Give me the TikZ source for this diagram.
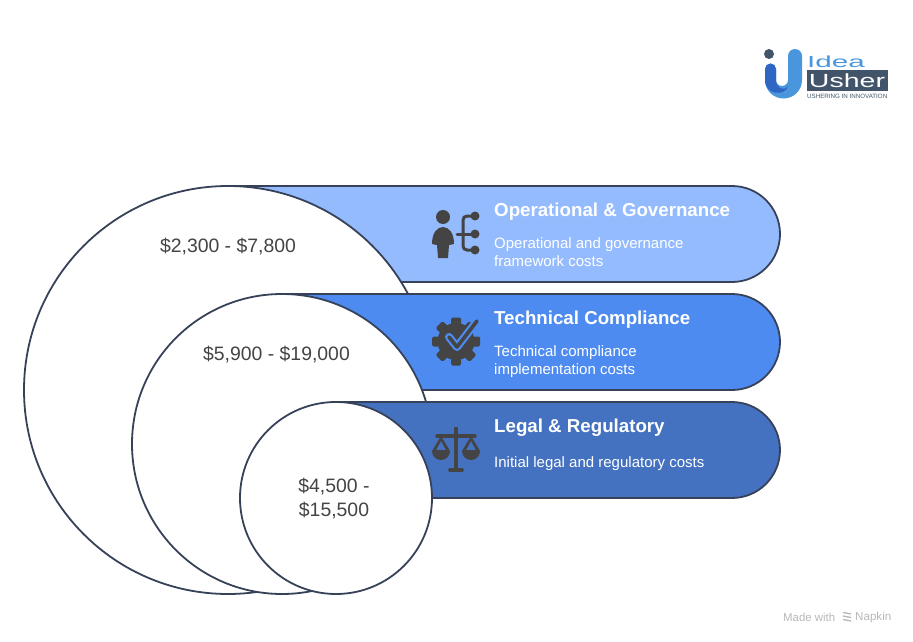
\documentclass[tikz,border=0pt]{standalone}
\usepackage{fontspec}
\setmainfont{Liberation Sans}
\usetikzlibrary{calc}

\definecolor{barlight}{HTML}{94BBFE}
\definecolor{barmid}{HTML}{4D8BF0}
\definecolor{bardark}{HTML}{4472C0}
\definecolor{rim}{HTML}{374259}
\definecolor{ink}{HTML}{444444}
\definecolor{logoblue}{HTML}{4A96DC}
\definecolor{logodeep}{HTML}{2F66C4}
\definecolor{logoslate}{HTML}{41546A}

\begin{document}
\begin{tikzpicture}[x=1pt,y=-1pt]
      \newcommand{\band}[3]{\filldraw[bandline,fill=#1] (#3,#2) -- (732,#2) arc[start angle=-90,end angle=90,radius=48] -- (#3,#2+96) -- cycle;}
      \tikzstyle{bandline}=[draw=rim,line width=1.8pt]
      \tikzstyle{ring}=[circle,draw=rim,fill=white,line width=1.8pt,inner sep=0pt]
      \tikzstyle{cost}=[text=ink,font=\fontsize{19.4}{24}\selectfont,align=center]
      \tikzstyle{title}=[anchor=west,inner sep=0pt,text=white,font=\fontsize{18.7}{24}\selectfont\bfseries]
      \tikzstyle{desc}=[anchor=north west,inner sep=0pt,text=white,align=left,font=\fontsize{15}{18}\selectfont]
      \tikzstyle{icon}=[fill=ink,draw=none]
      \tikzstyle{wire}=[draw=ink,line width=3pt,line cap=round]

      \useasboundingbox (0,0) rectangle (913,642);
      \fill[white] (0,0) rectangle (913,642);

      % stacked bands and circles
      \band{barlight}{186}{228}
      \node[ring,minimum size=408pt] (large) at (228,390) {};
      \band{barmid}{294}{282}
      \fill[white] (400,390.9) rectangle (440,402);
      \node[ring,minimum size=300pt] (medium) at (282,444) {};
      \band{bardark}{402}{336}
      \node[ring,minimum size=192pt] (small) at (336,498) {};

      \node[cost] (cost1) at (228,246.5) {\$2,300 - \$7,800};
      \node[cost] (cost2) at (276.5,354.5) {\$5,900 - \$19,000};
      \node[cost] (cost3) at (334,498.5) {\$4,500 -\\[0pt]\$15,500};

      \node[title] (title1) at (494,211.5) {Operational \& Governance};
      \node[title] (title2) at (494,319.5) {Technical Compliance};
      \node[title] (title3) at (494,427.5) {Legal \& Regulatory};
      \node[desc] (desc1) at (494,237.5) {Operational and governance\\framework costs};
      \node[desc] (desc2) at (494,345.5) {Technical compliance\\implementation costs};
      \node[desc] (desc3) at (494,456.5) {Initial legal and regulatory costs};

      % person with branches
      \fill[icon] (443,217) circle (7);
      \fill[icon] (432,244) .. controls (432,233) and (437,227) .. (443,227) .. controls (449,227) and (454,233) .. (454,244) -- (449,245) -- (448,258) -- (438,258) -- (437,245) -- cycle;
      \draw[wire,rounded corners=4pt] (475,216) -- (463,216) -- (463,250) -- (475,250);
      \draw[wire] (457,234) -- (475,234);
      \fill[icon] (475,216) circle (4.5);
      \fill[icon] (475,234) circle (4.5);
      \fill[icon] (475,250) circle (4.5);

      % gear with check
      \fill[icon] (456,341.5) circle (18.5);
      \foreach \a in {0,45,...,315}
        \fill[icon,rotate around={\a:(456,341.5)},rounded corners=1.5pt] (451,317.5) rectangle (461,332);
      \draw[barmid,line width=8pt,line cap=round,line join=round] (449,337) -- (457,347) -- (477,321);
      \draw[ink,line width=3.6pt,line cap=round,line join=round] (449,337) -- (457,347) -- (477,321);

      % scales
      \draw[ink,line width=3.4pt,line cap=round] (437,436) -- (475,436);
      \draw[ink,line width=3.4pt] (456,427) -- (456,470);
      \draw[ink,line width=3.8pt,line cap=round] (450,470) -- (462,470);
      \foreach \c in {441,471} {
        \fill[icon] (\c-9,451) arc[start angle=180,end angle=0,radius=9] -- cycle;
        \fill[icon,even odd rule] (\c,436) -- (\c+9,451) -- (\c-9,451) -- cycle (\c,441) -- (\c+5,450) -- (\c-5,450) -- cycle;
      }

      % logo
      \fill[logoblue] (788,56) arc[start angle=180,end angle=360,radius=7] -- (802,80) arc[start angle=0,end angle=180,radius=18.5] -- (765,69) arc[start angle=180,end angle=360,radius=5.5] -- (776,80) arc[start angle=180,end angle=0,radius=6] -- cycle;
      \fill[logodeep] (765,69) arc[start angle=180,end angle=360,radius=5.5] -- (776,80) .. controls (776,88) and (784,92) .. (788,86) .. controls (786,96) and (765,96) .. (765,80) -- cycle;
      \fill[logoslate] (769,54) circle (5);
      \fill[logoslate] (807,70) rectangle (888,91);
      \node[inner sep=0pt,anchor=west,text=logoblue,font=\fontsize{16}{16}\selectfont] (logoidea) at (807,62) {\scalebox{1.85}[1]{Idea}};
      \node[inner sep=0pt,text=white,font=\fontsize{19}{19}\selectfont] (logousher) at (847,80.5) {\scalebox{1.5}[1]{Usher}};
      \node[inner sep=0pt,anchor=west,text=logoslate,font=\fontsize{6.2}{6}\selectfont] (logotag) at (807,96.5) {USHERING IN INNOVATION};

      % footer
      \node[inner sep=0pt,anchor=west,text=black!28,font=\fontsize{11.4}{11}\selectfont] (madewith) at (783,617.5) {Made with};
      \node[inner sep=0pt,anchor=west,text=black!28,font=\fontsize{11.6}{11}\selectfont] (napkin) at (855,617.5) {Napkin};
      \foreach \y in {612.5,616,619.5}
        \draw[black!28,line width=1.3pt] (843,\y) -- (851,\y+1.5);
    \end{tikzpicture}
\end{document}
